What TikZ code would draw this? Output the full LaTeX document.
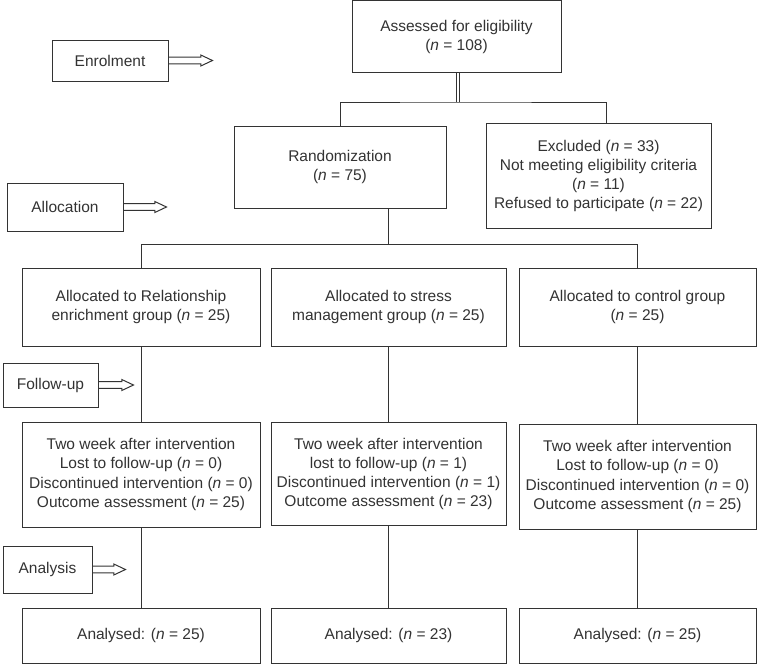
\documentclass[tikz,border=0pt]{standalone}
\usepackage{fontspec}
\setmainfont{Liberation Sans}
\usetikzlibrary{calc}
\definecolor{ink}{HTML}{333333}
\tikzset{
  box/.style={draw=ink, line width=1pt, fill=white, align=center, text=ink,
    font=\fontsize{15.5}{19.3}\selectfont, inner sep=0pt, anchor=center},
  conn/.style={draw=ink, line width=1pt},
  lbl/.style={box}
}
\newcommand{\blockarrow}[2]{%
  \draw[conn, line join=miter] (#1.east) ++(0,3.3pt) -- ++({#2-11.7},0) -- ++(0,2.2pt)
    -- ++(11.7pt,-5.5pt) -- ++(-11.7pt,-5.5pt) -- ++(0,2.2pt) -- ++({-(#2-11.7)},0);}
\newcommand{\nn}{\textit{n}}
\begin{document}
\begin{tikzpicture}[x=1pt,y=-1pt]
\useasboundingbox (0,0) rectangle (757,664);
% top
\node[box, minimum width=209pt, minimum height=72pt] (top) at (456.5,36.8) {Assessed for eligibility\\(\nn{} = 108)};
\node[box, minimum width=212pt, minimum height=82pt] (rand) at (340,167) {Randomization\\(\nn{} = 75)};
\node[box, minimum width=225pt, minimum height=105pt] (excl) at (598.5,176) {Excluded (\nn{} = 33)\\Not meeting eligibility criteria\\(\nn{} = 11)\\Refused to participate (\nn{} = 22)};
% allocation row
\node[box, minimum width=238pt, minimum height=78pt] (a1) at (141,307) {Allocated to Relationship\\enrichment group (\nn{} = 25)};
\node[box, minimum width=235pt, minimum height=78pt] (a2) at (388.5,307) {Allocated to stress\\management group (\nn{} = 25)};
\node[box, minimum width=237pt, minimum height=78pt] (a3) at (637.5,307) {Allocated to control group\\(\nn{} = 25)};
% follow-up row
\node[box, minimum width=238pt, minimum height=105pt] (f1) at (141,474.5) {Two week after intervention\\Lost to follow-up (\nn{} = 0)\\Discontinued intervention (\nn{} = 0)\\Outcome assessment (\nn{} = 25)};
\node[box, minimum width=235pt, minimum height=103pt] (f2) at (388.5,474) {Two week after intervention\\lost to follow-up (\nn{} = 1)\\Discontinued intervention (\nn{} = 1)\\Outcome assessment (\nn{} = 23)};
\node[box, minimum width=237pt, minimum height=105pt] (f3) at (637.5,476.5) {Two week after intervention\\Lost to follow-up (\nn{} = 0)\\Discontinued intervention (\nn{} = 0)\\Outcome assessment (\nn{} = 25)};
% analysed row
\node[box, minimum width=238pt, minimum height=55pt] (n1) at (141,635.5) {Analysed: (\nn{} = 25)};
\node[box, minimum width=235pt, minimum height=55pt] (n2) at (388.5,635.5) {Analysed: (\nn{} = 23)};
\node[box, minimum width=237pt, minimum height=55pt] (n3) at (637.5,635.5) {Analysed: (\nn{} = 25)};
% stage labels
\node[lbl, minimum width=116pt, minimum height=41pt] (enr) at (110,60.5) {Enrolment};
\node[lbl, minimum width=116pt, minimum height=48pt] (alc) at (65,207) {Allocation};
\node[lbl, minimum width=95pt, minimum height=44pt] (fol) at (50.5,385) {Follow-up};
\node[lbl, minimum width=89pt, minimum height=47pt] (ana) at (47.5,569.5) {Analysis};
\blockarrow{enr}{44}
\blockarrow{alc}{43}
\blockarrow{fol}{35}
\blockarrow{ana}{33}
% connectors
\coordinate (j1) at (458,102);
\draw[draw=ink, line width=0.8pt, double=white, double distance=1.6pt] (top.south -| j1) -- (j1);
\draw[conn] (rand.north) |- (j1) -| (excl.north -| 606,0);
\coordinate (j2) at (0,244.7);
\draw[conn] (rand.south -| a2.north) -- (a2.north |- j2);
\draw[conn] (a1.north) -- (a1.north |- j2) -- (a3.north |- j2) -- (a3.north);
\draw[conn] (a1.south) -- (f1.north);
\draw[conn] (a2.south) -- (f2.north);
\draw[conn] (a3.south) -- (f3.north);
\draw[conn] (f1.south) -- (n1.north);
\draw[conn] (f2.south) -- (n2.north);
\draw[conn] (f3.south) -- (n3.north);
\end{tikzpicture}
\end{document}
